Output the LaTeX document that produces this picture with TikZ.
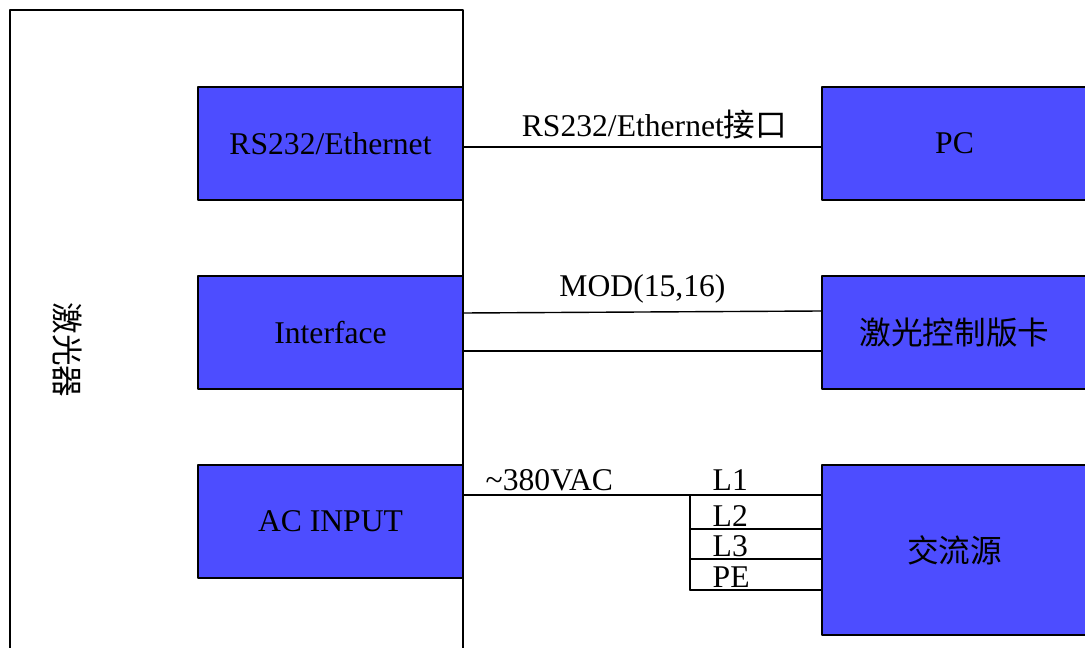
\documentclass[tikz,border=0pt]{standalone}
\usepackage{fontspec}
\setmainfont{Liberation Serif}
\newfontfamily\cjk{Noto Sans CJK SC}
\usetikzlibrary{positioning,calc}
\definecolor{boxblue}{RGB}{77,77,255}
\tikzset{every node/.style={font=\fontsize{18}{22}\selectfont},
  blk/.style={draw,line width=1.1pt,fill=boxblue,minimum width=5.3cm,minimum height=2.26cm,inner sep=0pt},
  lbl/.style={anchor=base west,inner sep=0pt}}
\begin{document}
\begin{tikzpicture}[x=0.02cm,y=-0.02cm,line width=0.8pt,line cap=round,line join=round]
\useasboundingbox (0,0) rectangle (1085,648);
\clip (0,0) rectangle (1085,648);
\draw[line width=1.1pt] (10,680)--(10,10)--(463,10)--(463,680);
\node[rotate=-90] (laser) at (68,350) {\cjk 激光器};
\node[blk] (rs) at (330.5,143.5) {RS232/Ethernet};
\node[blk] (iface) at (330.5,332.5) {Interface};
\node[blk] (acin) at (330.5,521.5) {AC INPUT};
\node[blk] (pc) at (954.5,143.5) {PC};
\node[blk] (ctrl) at (954.5,332.5) {\cjk 激光控制版卡};
\node[blk,minimum height=3.4cm] (acsrc) at (954.5,550) {\cjk 交流源};
% connections
\draw ($(rs.east)+(0,3.5)$) -- ($(pc.west)+(0,3.5)$)
  node[midway,above=1pt,xshift=0.24cm] (rslbl) {RS232/Ethernet{\cjk 接口}};
\draw ($(iface.east)+(0,-19.5)$) -- ($(ctrl.west)+(0,-21.5)$)
  node[midway,above=1pt] (modlbl) {MOD(15,16)};
\draw ($(iface.east)+(0,18.5)$) -- ($(ctrl.west)+(0,18.5)$);
\draw ($(acin.east)+(0,-26.5)$) coordinate (acout) -- (acout -| acsrc.west);
\node[lbl] (vac) at (485,490) {\textasciitilde380VAC};
\node[lbl] (l1) at (712,490) {L1};
\coordinate (tap) at (690,495);
\draw (tap) -- (690,590);
\foreach \yy/\tt in {529/L2,559/L3,590/PE}{
  \draw (690,\yy) coordinate (w\tt) -- (w\tt -| acsrc.west);
  \node[lbl] (n\tt) at (712,\yy-3) {\tt};
}
\end{tikzpicture}
\end{document}
